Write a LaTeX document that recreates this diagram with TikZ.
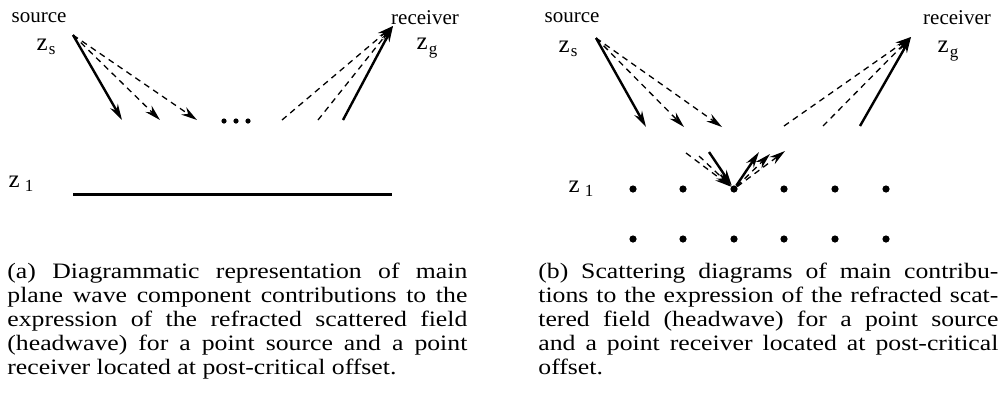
\documentclass[tikz,border=0pt]{standalone}
\usepackage{fontspec}
\setmainfont{Liberation Serif}
\newfontfamily\captionfont[FakeStretch=1.17]{Liberation Serif}
\usetikzlibrary{arrows.meta,positioning}

\newcommand{\zdepth}[2][0.6pt]{{\fontsize{12.5}{13}\selectfont z}\hspace{#1}\raisebox{-0.45ex}{\fontsize{8.5}{9}\selectfont #2}}

\begin{document}
\begin{tikzpicture}[x=0.5pt, y=-0.5pt, >={Stealth[length=8pt,width=4.4pt,inset=2.6pt]},
    ray-solid/.style={->, line width=1.2pt},
    ray-dashed/.style={->, line width=0.65pt, dash pattern=on 3pt off 2.4pt},
    label-node/.style={inner sep=0pt, font=\fontsize{10.5}{12}\selectfont},
    caption-node/.style={inner sep=0pt, anchor=north west, text width=230pt, align=justify,
                font=\captionfont\fontsize{11}{12}\selectfont},
    scatterer/.style={circle, fill=black, inner sep=0pt, minimum size=3.6pt}]
    \useasboundingbox (0,0) rectangle (1000,403);

    % (a) plane wave components
    \node[label-node] (source-a) at (39,18) {source};
    \node[label-node] (zs-a) at (46,47) {\zdepth{s}};
    \node[label-node] (receiver-a) at (425,18) {receiver};
    \node[label-node] (zg-a) at (427,48) {\zdepth{g}};
    \node[label-node] (z1-a) at (21,184) {\zdepth[2.5pt]{1}};
    \coordinate (src-a) at (73,35);
    \coordinate (rec-a) at (393,26);
    \coordinate (down-a1) at (122,120);
    \coordinate (down-a2) at (160,120);
    \coordinate (down-a3) at (197,120);
    \coordinate (up-a1) at (282,120);
    \coordinate (up-a2) at (318,120);
    \coordinate (up-a3) at (343,120);
    \draw[ray-solid] (src-a) -- (down-a1);
    \draw[ray-dashed] (src-a) -- (down-a2);
    \draw[ray-dashed] (src-a) -- (down-a3);
    \draw[ray-dashed] (up-a1) -- (rec-a);
    \draw[ray-dashed] (up-a2) -- (rec-a);
    \draw[ray-solid] (up-a3) -- (rec-a);
    \foreach \x in {224,236,248}
        \fill (\x,121) circle (1.3pt);
    \coordinate (interface-w) at (73,194);
    \coordinate (interface-e) at (392,194);
    \draw[line width=1.5pt] (interface-w) -- (interface-e);

    % (b) scattering diagrams
    \node[label-node] (source-b) at (572,18) {source};
    \node[label-node] (zs-b) at (568,49) {\zdepth{s}};
    \node[label-node] (receiver-b) at (957,18) {receiver};
    \node[label-node] (zg-b) at (948,51) {\zdepth{g}};
    \node[label-node] (z1-b) at (581,189) {\zdepth[2.5pt]{1}};
    \coordinate (src-b) at (596,38);
    \coordinate (rec-b) at (911,37);
    \coordinate (down-b1) at (646,127);
    \coordinate (down-b2) at (684,127);
    \coordinate (down-b3) at (722,127);
    \coordinate (up-b1) at (784,126);
    \coordinate (up-b2) at (823,126);
    \coordinate (up-b3) at (860,126);
    \draw[ray-solid] (src-b) -- (down-b1);
    \draw[ray-dashed] (src-b) -- (down-b2);
    \draw[ray-dashed] (src-b) -- (down-b3);
    \draw[ray-dashed] (up-b1) -- (rec-b);
    \draw[ray-dashed] (up-b2) -- (rec-b);
    \draw[ray-solid] (up-b3) -- (rec-b);
    \foreach \i/\x in {1/633,2/683,3/734,4/784,5/835,6/886} {
        \node[scatterer] (p\i) at (\x,189) {};
        \node[scatterer] (q\i) at (\x,239) {};
    }
    \coordinate (in-1) at (709,152);
    \coordinate (in-2) at (699,156);
    \coordinate (in-3) at (686,153);
    \coordinate (out-1) at (759,152);
    \coordinate (out-2) at (770,154);
    \coordinate (out-3) at (785,151);
    \draw[ray-solid] (in-1) -- (p3);
    \draw[ray-dashed] (in-2) -- (p3);
    \draw[ray-dashed] (in-3) -- (p3);
    \draw[ray-solid] (p3) -- (out-1);
    \draw[ray-dashed] (p3) -- (out-2);
    \draw[ray-dashed] (p3) -- (out-3);

    % captions
    \node[caption-node] (caption-a) at (7,263) {(a) Diagrammatic representation of main\linebreak
        plane wave component contributions to the\linebreak
        expression of the refracted scattered field\linebreak
        (headwave) for a point source and a point\linebreak
        receiver located at post-critical offset.};
    \node[caption-node] (caption-b) at (538,263) {(b) Scattering diagrams of main contribu-\linebreak
        tions to the expression of the refracted scat-\linebreak
        tered field (headwave) for a point source\linebreak
        and a point receiver located at post-critical\linebreak
        offset.};
\end{tikzpicture}
\end{document}
